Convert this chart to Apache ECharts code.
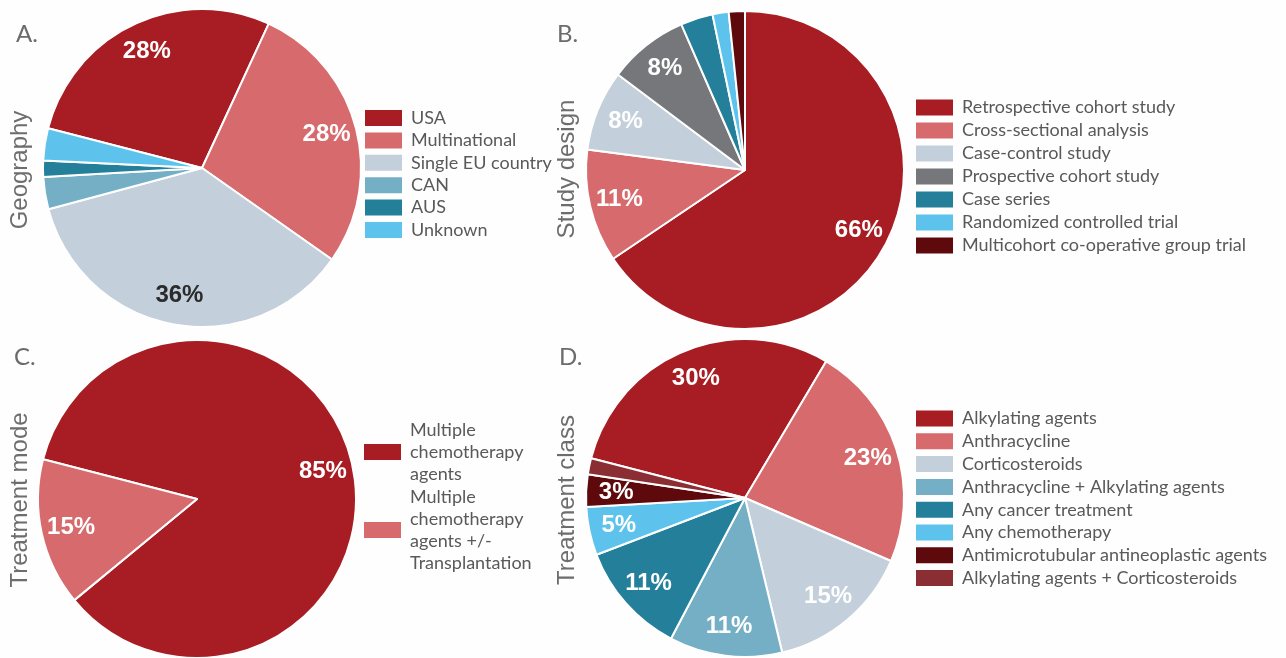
<!DOCTYPE html>
<html><head><meta charset="utf-8">
<script src="https://cdn.jsdelivr.net/npm/echarts@6/dist/echarts.min.js"></script>
<style>html,body{margin:0;padding:0;background:#fff}#c{width:1286px;height:658px}</style>
</head><body><div id="c"></div>
<script>
// ---- data (study counts) ----
const geoNames = ['USA', 'Multinational', 'Single EU country', 'CAN', 'AUS', 'Unknown'];
const geoValues = [17, 17, 22, 2, 1, 2];
const geoLabelled = ['USA', 'Multinational', 'Single EU country'];

const designNames = ['Retrospective cohort study', 'Cross-sectional analysis', 'Case-control study',
  'Prospective cohort study', 'Case series', 'Randomized controlled trial', 'Multicohort co-operative group trial'];
const designValues = [40, 7, 5, 5, 2, 1, 1];
const designLabelled = ['Retrospective cohort study', 'Cross-sectional analysis', 'Case-control study', 'Prospective cohort study'];

const modeNames = ['Multiple chemotherapy agents', 'Multiple chemotherapy agents +/- Transplantation'];
const modeValues = [85, 15];
const modeLegendText = ['Multiple\nchemotherapy\nagents', 'Multiple\nchemotherapy\nagents +/-\nTransplantation'];
const modeLabelled = modeNames;

const classNames = ['Alkylating agents', 'Anthracycline', 'Corticosteroids', 'Anthracycline + Alkylating agents',
  'Any cancer treatment', 'Any chemotherapy', 'Antimicrotubular antineoplastic agents', 'Alkylating agents + Corticosteroids'];
const classValues = [18, 14, 9, 7, 7, 3, 2, 1];
const classLabelled = classNames.slice(0, 7);

const darkLabelled = ['Single EU country'];

// ---- styles ----
const C = {
  red: '#A71D23', pink: '#D76A6D', light: '#C3CFDA', tealL: '#74AFC6', tealD: '#247F9B',
  sky: '#5EC3EC', gray: '#75777B', maroon: '#5E0A0D', brown: '#8A2E33'
};
const geoColors = [C.red, C.pink, C.light, C.tealL, C.tealD, C.sky];
const designColors = [C.red, C.pink, C.light, C.gray, C.tealD, C.sky, C.maroon];
const modeColors = [C.red, C.pink];
const classColors = [C.red, C.pink, C.light, C.tealL, C.tealD, C.sky, C.maroon, C.brown];

const R = 159;
function panel(names, values, colors, center, startAngle, labelled) {
  const main = {
    type: 'pie', center: center, radius: [0, R], startAngle: startAngle, clockwise: true,
    silent: true, animation: false, emphasis: { disabled: true },
    itemStyle: { borderColor: '#fff', borderWidth: 2 },
    label: { show: false }, labelLine: { show: false },
    data: names.map((n, i) => ({ name: n, value: values[i], itemStyle: { color: colors[i] } }))
  };
  const overlay = {
    type: 'pie', center: center, radius: [93, R], startAngle: startAngle, clockwise: true,
    silent: true, animation: false, emphasis: { disabled: true }, percentPrecision: 0,
    itemStyle: { color: 'rgba(0,0,0,0)', borderWidth: 0 },
    labelLine: { show: false },
    label: { position: 'inside', formatter: '{d}%', fontFamily: '"Liberation Sans", Arial, sans-serif',
      fontWeight: 'bold', fontSize: 24, color: '#ffffff' },
    data: names.map((n, i) => ({
      name: n, value: values[i],
      label: { show: labelled.indexOf(n) >= 0, color: darkLabelled.indexOf(n) >= 0 ? '#2b2b2b' : '#ffffff' }
    }))
  };
  return [main, overlay];
}

const legendText = { fontFamily: 'Lato, "Noto Sans", sans-serif', fontSize: 18, color: '#595959', lineHeight: 18, padding: [0, 0, 0, 4] };
function legend(names, left, top, gap, extra) {
  return Object.assign({
    orient: 'vertical', left: left, top: top, data: names, icon: 'rect',
    itemWidth: 37, itemHeight: 16, itemGap: gap, selectedMode: false,
    itemStyle: { borderWidth: 0 }, textStyle: Object.assign({}, legendText), padding: 0
  }, extra || {});
}

const titleFont = '24px Lato, "Noto Sans", sans-serif';
const sideFont = '24px "Liberation Sans", Arial, sans-serif';
function letter(t, x, y) {
  return { type: 'text', x: x, y: y, silent: true,
    style: { text: t, font: titleFont, fill: '#6b6b6b', align: 'left', verticalAlign: 'middle' } };
}
function side(t, x, y) {
  return { type: 'text', x: x, y: y, rotation: Math.PI / 2, silent: true,
    style: { text: t, font: sideFont, fill: '#6d6d6d', align: 'center', verticalAlign: 'middle' } };
}

const modeLegendMap = {};
modeNames.forEach((n, i) => { modeLegendMap[n] = modeLegendText[i]; });

const option = {
  backgroundColor: '#fefefe',
  animation: false,
  legend: [
    legend(geoNames, 365, 109, 4.4),
    legend(designNames, 916, 98.5, 5),
    legend(modeNames, 364, 419, 1, {
      formatter: n => modeLegendMap[n],
      textStyle: Object.assign({}, legendText, { lineHeight: 22 })
    }),
    legend(classNames, 916, 409.5, 4.8)
  ],
  graphic: [
    letter('A.', 16, 34), letter('B.', 557, 34), letter('C.', 14, 357), letter('D.', 559, 357),
    side('Geography', 20, 170), side('Study design', 567, 169),
    side('Treatment mode', 20, 500), side('Treatment class', 567, 500)
  ],
  series: [].concat(
    panel(geoNames, geoValues, geoColors, [202, 168], 165.5, geoLabelled),
    panel(designNames, designValues, designColors, [745, 170], 90, designLabelled),
    panel(modeNames, modeValues, modeColors, [197, 499], 165.5, modeLabelled),
    panel(classNames, classValues, classColors, [745, 498], 165.5, classLabelled)
  )
};
const chart = echarts.init(document.getElementById('c'), null, { renderer: 'canvas' });
chart.setOption(option);
</script></body></html>
